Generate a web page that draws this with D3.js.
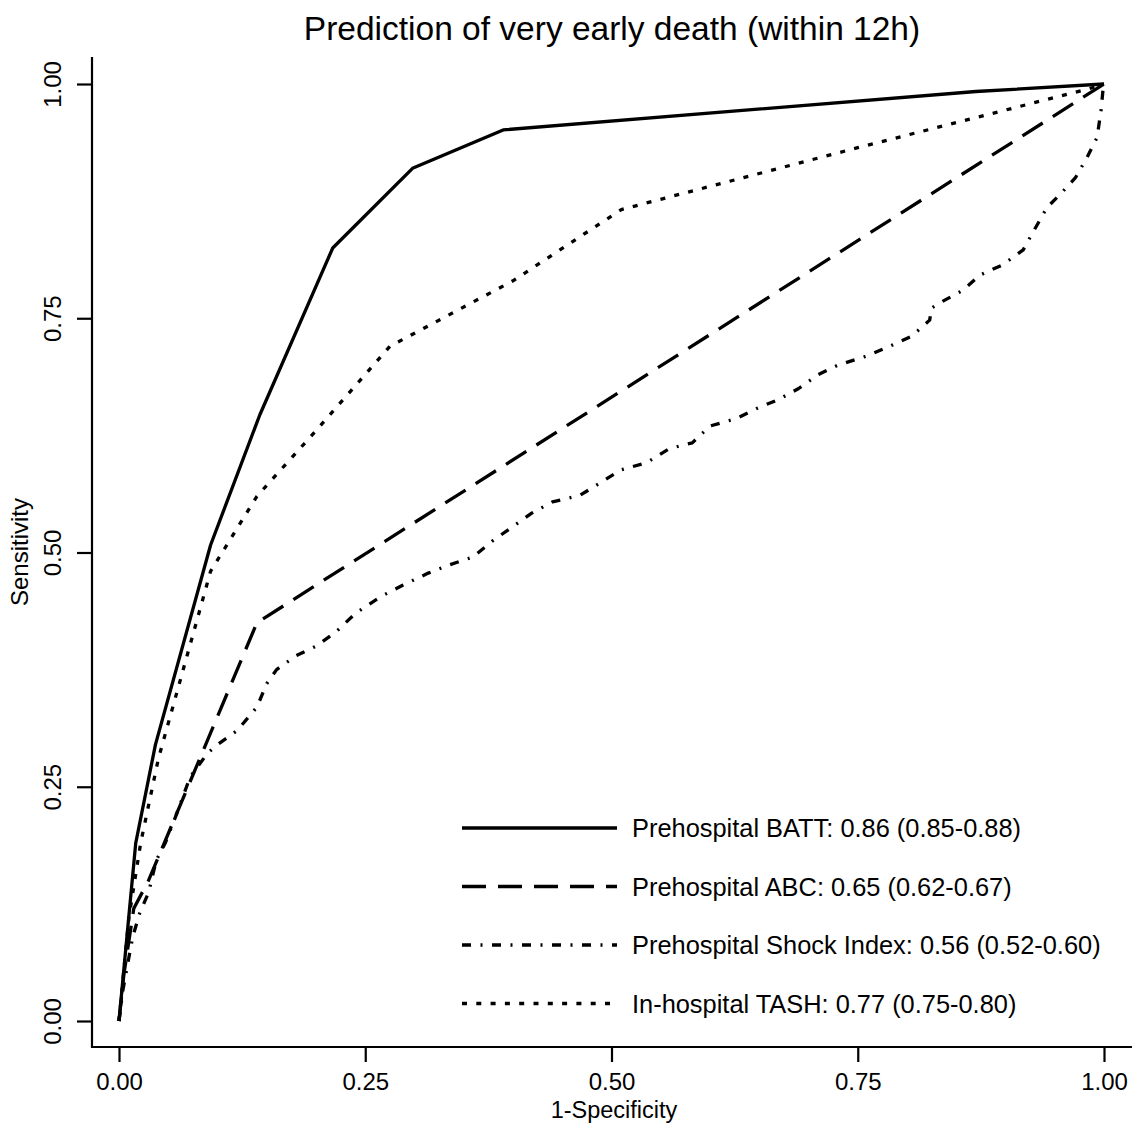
<!DOCTYPE html>
<html>
<head>
<meta charset="utf-8">
<script src="https://cdn.jsdelivr.net/npm/d3@7"></script>
<style>
  body { margin: 0; background: #fff; }
  text { font-family: "Liberation Sans", Arial, sans-serif; fill: #000; }
</style>
</head>
<body>
<svg id="chart" width="1132" height="1126"></svg>
<script>
// ROC curves: 1-specificity (fpr) vs sensitivity (tpr)
const battFpr = [0, 0.017, 0.037, 0.093, 0.143, 0.217, 0.298, 0.39, 0.87, 1];
const battTpr = [0, 0.19, 0.295, 0.508, 0.647, 0.825, 0.91, 0.951, 0.992, 1];

const abcFpr = [0, 0.005, 0.015, 0.03, 0.14, 1];
const abcTpr = [0, 0.05, 0.12, 0.15, 0.425, 1];

const shockFpr = [0, 0.004, 0.009, 0.014, 0.021, 0.03, 0.038, 0.047, 0.06, 0.072, 0.09, 0.1, 0.12, 0.14,
  0.15, 0.16, 0.18, 0.2, 0.22, 0.24, 0.265, 0.288, 0.314, 0.336, 0.359, 0.38, 0.399, 0.419, 0.44,
  0.468, 0.488, 0.509, 0.536, 0.559, 0.582, 0.6, 0.627, 0.648, 0.669, 0.69, 0.71, 0.73, 0.76, 0.78,
  0.805, 0.823, 0.825, 0.836, 0.857, 0.874, 0.897, 0.918, 0.928, 0.942, 0.957, 0.971, 0.983, 0.993,
  0.997, 0.999, 1];
const shockTpr = [0, 0.033, 0.062, 0.09, 0.115, 0.137, 0.172, 0.19, 0.225, 0.26, 0.286, 0.295, 0.31, 0.335,
  0.36, 0.375, 0.39, 0.4, 0.415, 0.435, 0.4525, 0.465, 0.478, 0.487, 0.495, 0.513, 0.527, 0.542, 0.554,
  0.561, 0.574, 0.588, 0.596, 0.611, 0.617, 0.635, 0.643, 0.654, 0.663, 0.675, 0.69, 0.7, 0.71, 0.719,
  0.731, 0.748, 0.761, 0.768, 0.78, 0.796, 0.807, 0.823, 0.842, 0.868, 0.884, 0.9, 0.922, 0.943,
  0.972, 0.994, 1];

const tashFpr = [0, 0.01, 0.022, 0.04, 0.093, 0.14, 0.2, 0.275, 0.4, 0.51, 0.75, 0.985, 1];
const tashTpr = [0, 0.11, 0.19, 0.28, 0.48, 0.56, 0.63, 0.72, 0.79, 0.866, 0.932, 0.995, 1];

const seriesNames = [
  "Prehospital BATT: 0.86 (0.85-0.88)",
  "Prehospital ABC: 0.65 (0.62-0.67)",
  "Prehospital Shock Index: 0.56 (0.52-0.60)",
  "In-hospital TASH: 0.77 (0.75-0.80)"
];
const tickValues = [0, 0.25, 0.5, 0.75, 1];

const dashes = ["none", "24,12", "9,9.5,2,9.5", "5,9.3"];

const series = [
  {fpr: battFpr, tpr: battTpr},
  {fpr: abcFpr, tpr: abcTpr},
  {fpr: shockFpr, tpr: shockTpr},
  {fpr: tashFpr, tpr: tashTpr}
].map((s, i) => ({
  name: seriesNames[i],
  dash: dashes[i],
  pts: s.fpr.map((f, j) => [f, s.tpr[j]])
}));

const svg = d3.select("#chart");

const x = d3.scaleLinear().domain([0, 1]).range([119, 1104]);
const y = d3.scaleLinear().domain([0, 1]).range([1021, 84]);

// axis lines (L shaped box)
svg.append("line")
  .attr("x1", 92).attr("x2", 92).attr("y1", 57).attr("y2", 1048)
  .attr("stroke", "#000").attr("stroke-width", 2.2);
svg.append("line")
  .attr("x1", 91).attr("x2", 1132).attr("y1", 1047).attr("y2", 1047)
  .attr("stroke", "#000").attr("stroke-width", 2.2);

const fmt = d3.format(".2f");

const gy = svg.append("g")
  .attr("transform", "translate(92,0)")
  .call(d3.axisLeft(y).tickValues(tickValues).tickFormat(fmt).tickSize(15).tickSizeOuter(0));
gy.select(".domain").remove();
gy.selectAll("line").attr("stroke", "#000").attr("stroke-width", 2.2);
gy.selectAll("text")
  .attr("x", null).attr("dy", null)
  .style("font-size", "24px")
  .attr("text-anchor", "middle")
  .attr("transform", "translate(-31,0) rotate(-90)");

const gx = svg.append("g")
  .attr("transform", "translate(0,1047)")
  .call(d3.axisBottom(x).tickValues(tickValues).tickFormat(fmt).tickSize(15).tickSizeOuter(0));
gx.select(".domain").remove();
gx.selectAll("line").attr("stroke", "#000").attr("stroke-width", 2.2);
gx.selectAll("text")
  .attr("y", 43).attr("dy", null)
  .style("font-size", "24px");

// titles
svg.append("text")
  .attr("x", 612).attr("y", 40)
  .attr("text-anchor", "middle")
  .style("font-size", "33.5px")
  .text("Prediction of very early death (within 12h)");

svg.append("text")
  .attr("x", 614).attr("y", 1118)
  .attr("text-anchor", "middle")
  .style("font-size", "23.5px")
  .text("1-Specificity");

svg.append("text")
  .attr("transform", "translate(28,552) rotate(-90)")
  .attr("text-anchor", "middle")
  .style("font-size", "24px")
  .text("Sensitivity");

// curves
const line = d3.line().x(d => x(d[0])).y(d => y(d[1]));

svg.append("g").selectAll("path")
  .data(series)
  .enter()
  .append("path")
  .attr("d", d => line(d.pts))
  .attr("fill", "none")
  .attr("stroke", "#000")
  .attr("stroke-width", 3.3)
  .attr("stroke-linejoin", "round")
  .attr("stroke-dasharray", d => d.dash);

// legend
const legend = svg.append("g").selectAll("g")
  .data(series)
  .enter()
  .append("g")
  .attr("transform", (d, i) => `translate(0,${828 + i * 58.5})`);

legend.append("line")
  .attr("x1", 462).attr("x2", 617)
  .attr("stroke", "#000")
  .attr("stroke-width", 3.3)
  .attr("stroke-dasharray", d => d.dash);

legend.append("text")
  .attr("x", 632).attr("y", 9)
  .style("font-size", "25.4px")
  .text(d => d.name);
</script>
</body>
</html>
